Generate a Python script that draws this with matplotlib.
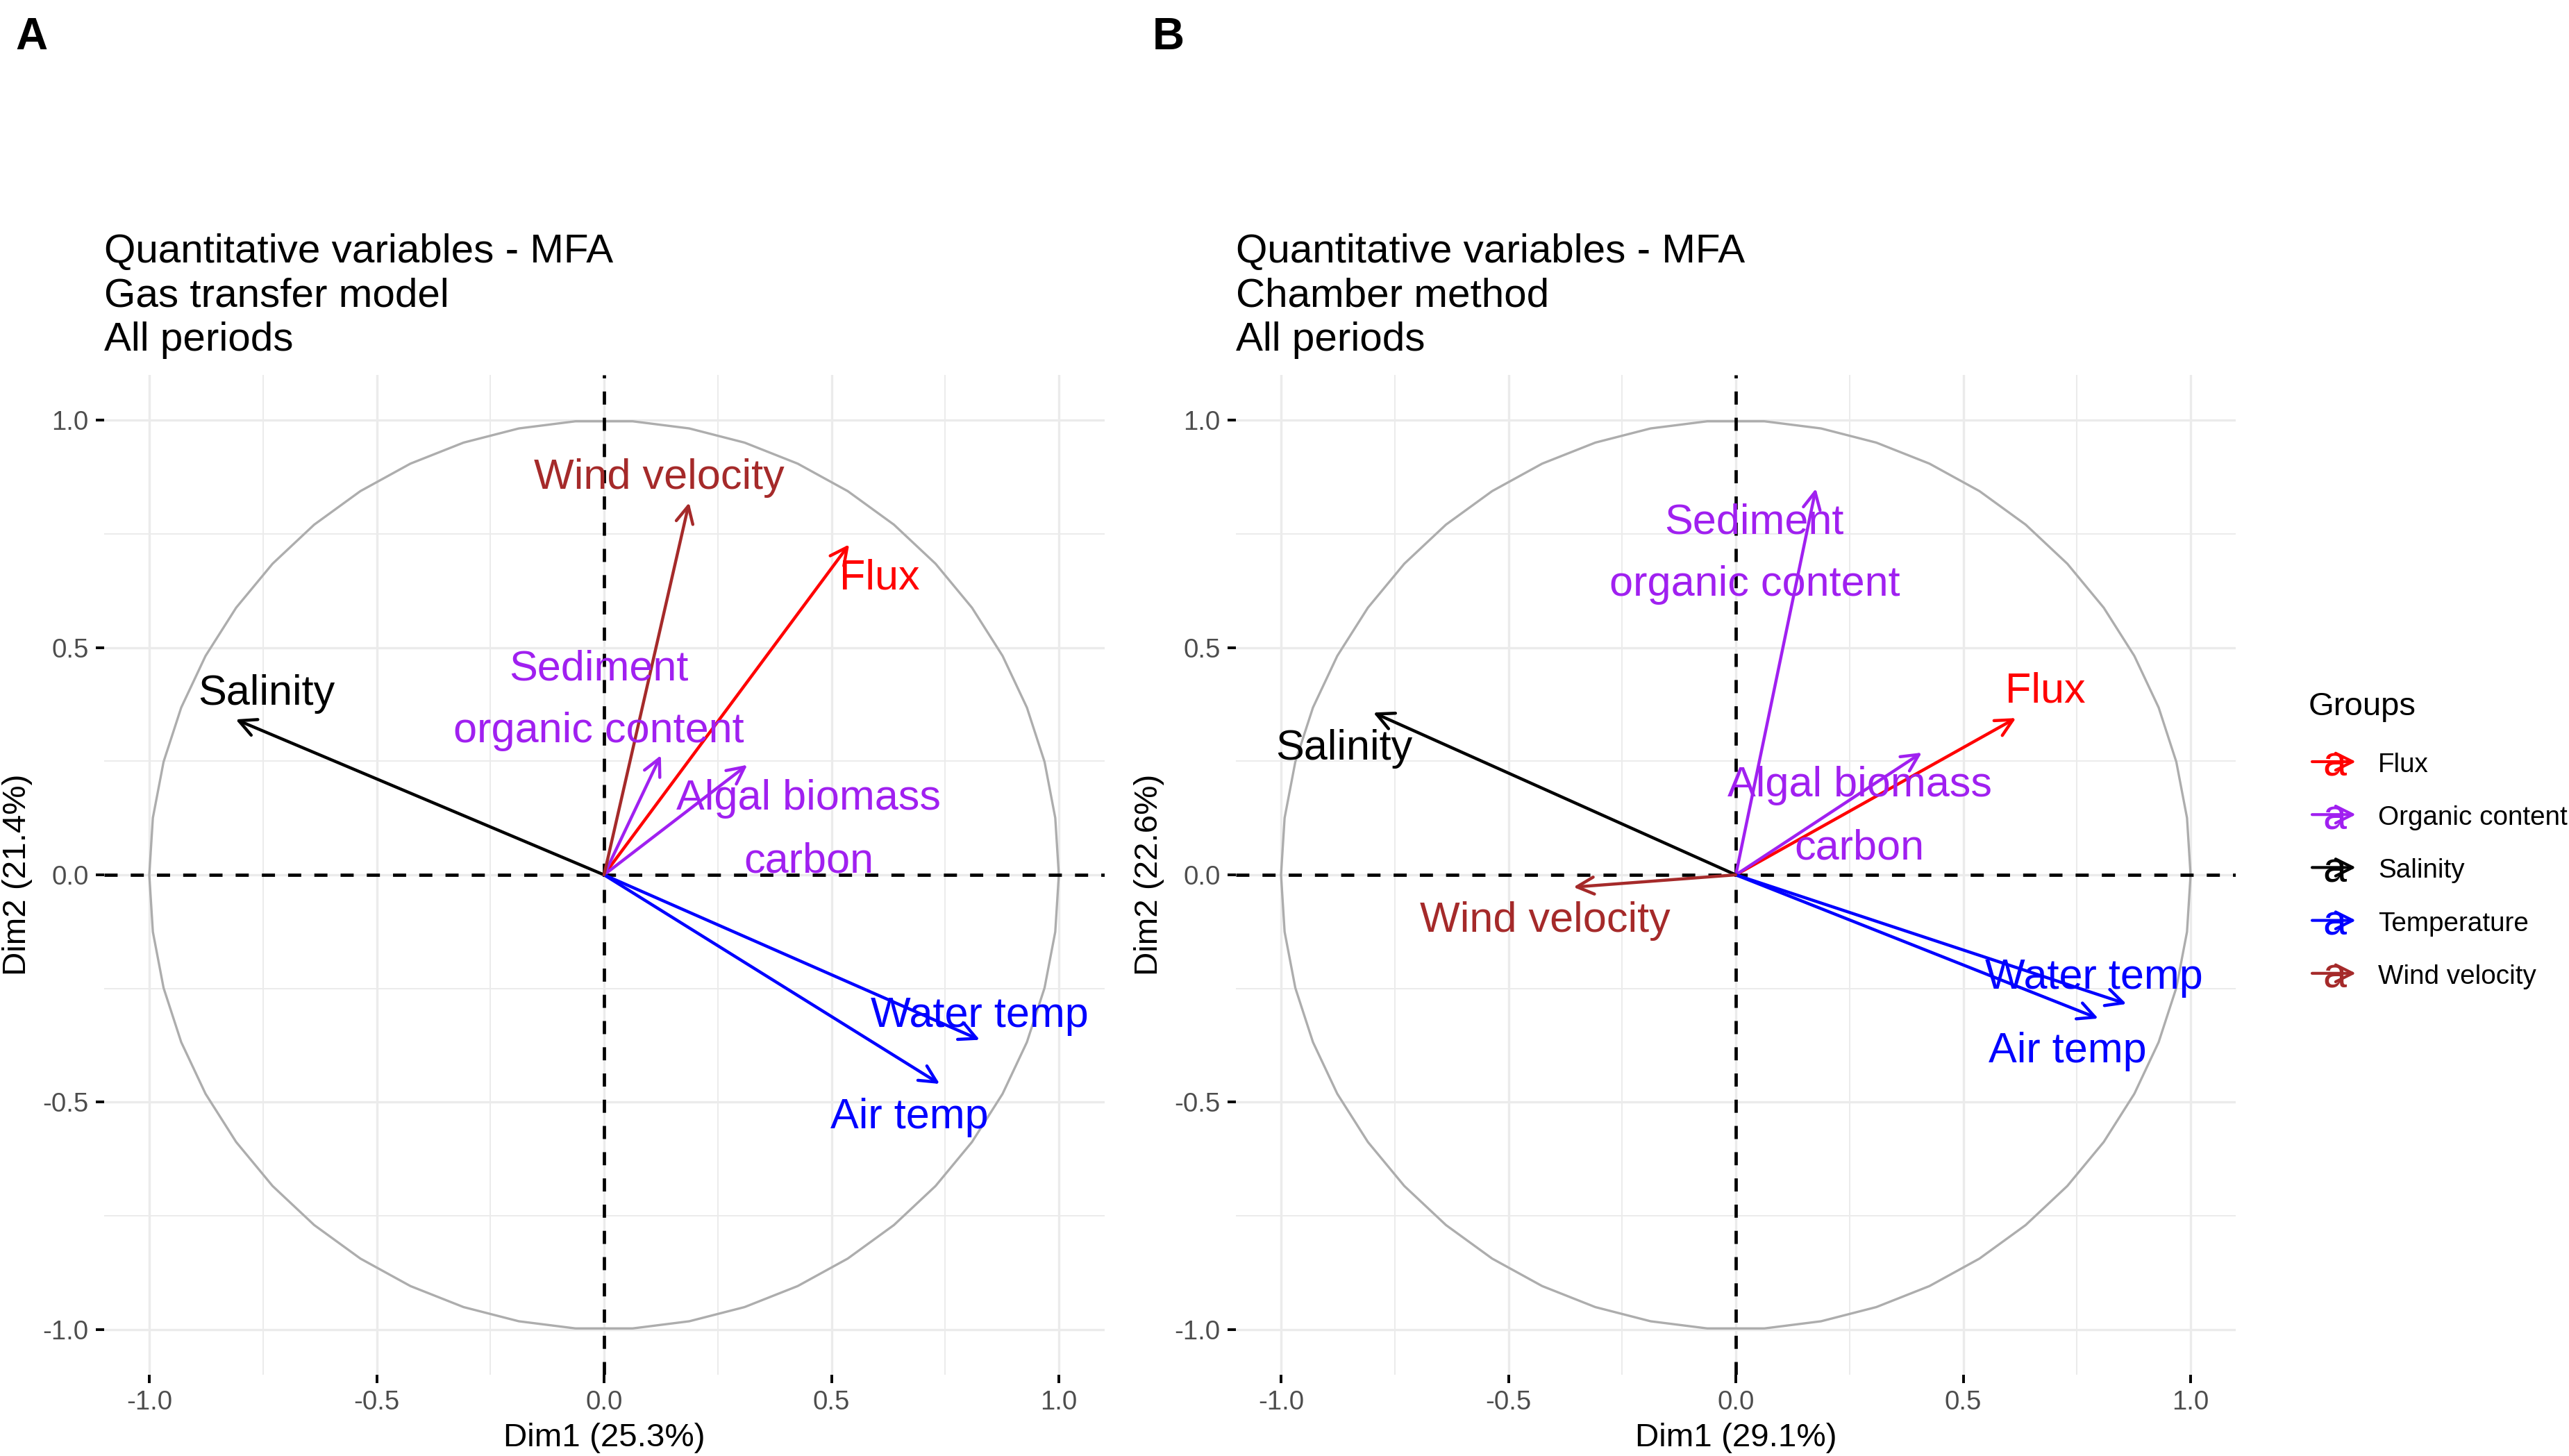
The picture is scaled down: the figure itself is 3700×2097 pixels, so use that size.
import numpy as np
import matplotlib.pyplot as plt

plt.rcParams['font.family'] = ['Liberation Sans', 'DejaVu Sans']

# variables (same order in both panels)
variables = ['Flux', 'Sediment\norganic content', 'Algal biomass\ncarbon', 'Salinity',
             'Water temp', 'Air temp', 'Wind velocity']
var_groups = ['Flux', 'Organic content', 'Organic content', 'Salinity',
              'Temperature', 'Temperature', 'Wind velocity']

group_names = ['Flux', 'Organic content', 'Salinity', 'Temperature', 'Wind velocity']
group_colors = ['#FF0000', '#A020F0', '#000000', '#0000FF', '#A52A2A']

ticks = [-1.0, -0.5, 0.0, 0.5, 1.0]
tick_labels = ['-1.0', '-0.5', '0.0', '0.5', '1.0']

# panel A - gas transfer model
gas_titles = ['Quantitative variables - MFA', 'Gas transfer model', 'All periods']
gas_pct = [25.3, 21.4]
gas_dim1 = [0.539, 0.125, 0.315, -0.810, 0.826, 0.738, 0.187]
gas_dim2 = [0.727, 0.263, 0.242, 0.342, -0.363, -0.460, 0.819]
gas_lab_x = [0.606, -0.011, 0.450, -0.742, 0.826, 0.671, 0.121]
gas_lab_y = [0.628, 0.429, 0.143, 0.374, -0.334, -0.557, 0.850]

# panel B - chamber method
ch_titles = ['Quantitative variables - MFA', 'Chamber method', 'All periods']
ch_pct = [29.1, 22.6]
ch_dim1 = [0.616, 0.176, 0.409, -0.797, 0.859, 0.797, -0.357]
ch_dim2 = [0.345, 0.850, 0.269, 0.357, -0.284, -0.316, -0.027]
ch_lab_x = [0.680, 0.041, 0.272, -0.862, 0.787, 0.729, -0.420]
ch_lab_y = [0.379, 0.751, 0.172, 0.254, -0.251, -0.413, -0.126]

color_of = dict(zip(group_names, group_colors))

W, H = 3700, 2097
fig = plt.figure(figsize=(W / 200, H / 200), dpi=200)


def draw_panel(rect, dim1, dim2, lab_x, lab_y, pct):
    ax = fig.add_axes(rect)
    ax.set_xlim(-1.1, 1.1)
    ax.set_ylim(-1.1, 1.1)
    ax.set_xticks(ticks)
    ax.set_xticklabels(tick_labels)
    ax.set_yticks(ticks)
    ax.set_yticklabels(tick_labels)
    ax.set_xticks([-0.75, -0.25, 0.25, 0.75], minor=True)
    ax.set_yticks([-0.75, -0.25, 0.25, 0.75], minor=True)
    ax.grid(which='major', color='#EBEBEB', lw=1.2)
    ax.grid(which='minor', color='#EBEBEB', lw=0.7)
    ax.set_axisbelow(True)
    ax.tick_params(which='minor', length=0)
    ax.tick_params(which='major', length=4.3, width=1.4, color='black',
                   labelcolor='#4D4D4D', labelsize=13.8, pad=3.6)
    for s in ax.spines.values():
        s.set_visible(False)

    theta = np.linspace(0, 2 * np.pi, 51)
    ax.plot(np.cos(theta), np.sin(theta), color='#ADADAD', lw=1.2, zorder=2)
    ax.axhline(0, color='black', ls=(0, (4, 4)), lw=1.7, zorder=2)
    ax.axvline(0, color='black', ls=(0, (4, 4)), lw=1.7, zorder=2)

    for x, y, g in zip(dim1, dim2, var_groups):
        ax.annotate('', xy=(x, y), xytext=(0, 0),
                    arrowprops=dict(arrowstyle='->', mutation_scale=22, lw=1.6,
                                    color=color_of[g], shrinkA=0, shrinkB=0),
                    zorder=3)

    for name, g, x, y in zip(variables, var_groups, lab_x, lab_y):
        for k, line in enumerate(name.split('\n')):
            ax.annotate(line, (x, y), xytext=(0, -32.4 * k), textcoords='offset points',
                        ha='center', va='baseline', fontsize=22, color=color_of[g],
                        zorder=4)

    ax.set_xlabel(f'Dim1 ({pct[0]}%)', fontsize=17.1, labelpad=4)
    ax.set_ylabel(f'Dim2 ({pct[1]}%)', fontsize=17.1, labelpad=5)
    return ax


rect_a = [149.5 / W, 1 - 1980 / H, 1441 / W, 1440 / H]
rect_b = [1779.5 / W, 1 - 1980 / H, 1441 / W, 1440 / H]
draw_panel(rect_a, gas_dim1, gas_dim2, gas_lab_x, gas_lab_y, gas_pct)
draw_panel(rect_b, ch_dim1, ch_dim2, ch_lab_x, ch_lab_y, ch_pct)

# overlay in pixel units for titles, tags and legend
over = fig.add_axes([0, 0, 1, 1], zorder=-1)
over.set_xlim(0, W)
over.set_ylim(H, 0)
over.axis('off')

for x0, titles in [(150, gas_titles), (1780, ch_titles)]:
    for k, t in enumerate(titles):
        over.text(x0, 378 + 63.5 * k, t, fontsize=21, ha='left', va='baseline')

over.text(22, 71, 'A', fontsize=23, fontweight='bold', va='baseline')
over.text(1660, 71, 'B', fontsize=23, fontweight='bold', va='baseline')

# legend
over.text(3325, 1030, 'Groups', fontsize=17, va='baseline')
for k, (g, c) in enumerate(zip(group_names, group_colors)):
    base = 1112 + 76.2 * k
    over.text(3362, base + 6, 'a', fontsize=22, color=c, ha='center', va='baseline')
    over.annotate('', xy=(3393, base - 15), xytext=(3330, base - 15),
                  arrowprops=dict(arrowstyle='->', mutation_scale=22, lw=1.5,
                                  color=c, shrinkA=0, shrinkB=0))
    over.text(3425, base, g, fontsize=13.9, va='baseline')

fig.savefig('out.png', dpi=200)
